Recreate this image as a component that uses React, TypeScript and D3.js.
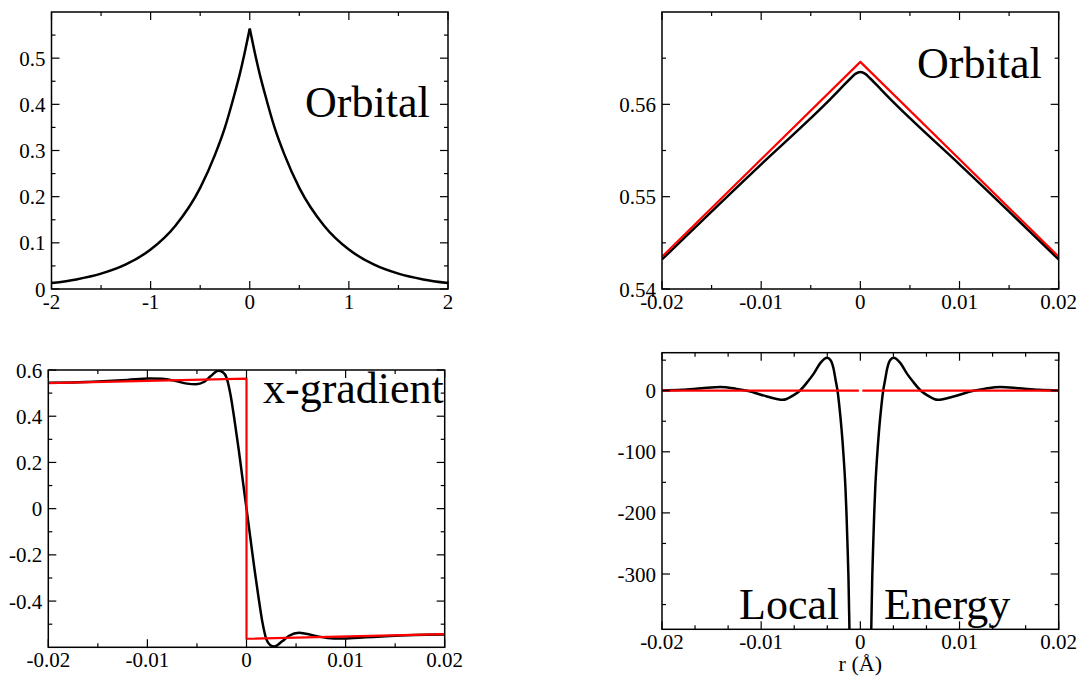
import React from "react";
import * as d3 from "d3";

// ---- data ----

// top-left: orbital over [-2, 2]
const orbX = [-2, -1.75, -1.5, -1.25, -1, -0.75, -0.5, -0.35, -0.25, -0.15, -0.1, -0.05, 0,
  0.05, 0.1, 0.15, 0.25, 0.35, 0.5, 0.75, 1, 1.25, 1.5, 1.75, 2];
const orbY = [0.0128, 0.0207, 0.0332, 0.0532, 0.0854, 0.137, 0.219, 0.291, 0.35, 0.425, 0.466, 0.513, 0.564,
  0.513, 0.466, 0.425, 0.35, 0.291, 0.219, 0.137, 0.0854, 0.0532, 0.0332, 0.0207, 0.0128];

// top-right: zoom near the cusp
const zoomX = [-0.02, -0.01, -0.005, -0.003, -0.002, -0.001, -0.0005, 0, 0.0005, 0.001, 0.002, 0.003, 0.005, 0.01, 0.02];
const zoomBlack = [0.5432, 0.5535, 0.5585, 0.5606, 0.5617, 0.5628, 0.5633, 0.5635, 0.5633, 0.5628, 0.5617, 0.5606, 0.5585, 0.5535, 0.5432];
const zoomRedX = [-0.02, 0, 0.02];
const zoomRed = [0.5435, 0.5646, 0.5435];

// bottom-left: x-gradient
const gradX = [-0.02, -0.017, -0.014, -0.012, -0.0098, -0.0085, -0.0072, -0.006, -0.0051, -0.0043, -0.0036,
  -0.00285, -0.0024, -0.002, -0.0016, -0.0012, -0.0008, -0.0004, 0, 0.0004, 0.0008, 0.0012, 0.0016, 0.002,
  0.0024, 0.0028, 0.0036, 0.0043, 0.0053, 0.006, 0.0072, 0.0088, 0.0098, 0.012, 0.014, 0.017, 0.02];
const gradBlack = [0.545, 0.547, 0.552, 0.557, 0.563, 0.562, 0.553, 0.541, 0.538, 0.548, 0.574,
  0.597, 0.591, 0.565, 0.49, 0.38, 0.26, 0.13, 0, -0.13, -0.26, -0.38, -0.49, -0.565,
  -0.591, -0.597, -0.574, -0.55, -0.537, -0.541, -0.553, -0.562, -0.562, -0.557, -0.552, -0.547, -0.545];
const gradRedX = [-0.02, 0, 0, 0.02];
const gradRed = [0.543, 0.563, -0.563, -0.543];

// bottom-right: local energy (two branches, each runs off the bottom)
const enLeftX = [-0.02, -0.018, -0.016, -0.0141, -0.0125, -0.0114, -0.0095, -0.0078, -0.0068, -0.0061, -0.0053,
  -0.0047, -0.004, -0.00335, -0.003, -0.0027, -0.0025, -0.0023, -0.0021, -0.0019, -0.0017, -0.0015, -0.0014,
  -0.0013, -0.0012, -0.0011, -0.001];
const enLeft = [0.5, 1.5, 4, 6, 3, 0, -9, -15, -8, 0, 15, 28, 46, 54, 50, 36, 18, 0, -28, -62, -105, -160, -200,
  -250, -305, -390, -480];
const enRightX = [0.001, 0.0011, 0.0012, 0.0013, 0.0014, 0.0015, 0.0017, 0.0019, 0.0021, 0.0023, 0.0025, 0.0027,
  0.003, 0.00335, 0.004, 0.0047, 0.0053, 0.0061, 0.0068, 0.0078, 0.0095, 0.0114, 0.0125, 0.0141, 0.016, 0.018, 0.02];
const enRight = [-480, -390, -305, -250, -200, -160, -105, -62, -28, 0, 18, 36, 50, 54, 46, 28, 15, 0, -8, -15, -9,
  0, 3, 6, 4, 1.5, 0.5];
const enRedLeftX = [-0.02, -0.00015];
const enRedRightX = [0.0002, 0.02];
const enRed = [0, 0];

const zip = (xs: number[], ys: number[]) => xs.map((x, i) => [x, ys[i]] as [number, number]);

const fmt = (v: number) => String(Number(v.toFixed(4)));
const steps = (a: number, b: number, s: number) => {
  const out: number[] = [];
  const n = Math.round((b - a) / s);
  for (let i = 0; i <= n; i++) out.push(Number((a + i * s).toFixed(6)));
  return out;
};

const FONT = "'Liberation Serif', 'Times New Roman', serif";

type Series = { pts: [number, number][]; color: string; width: number; smooth: boolean };
type Label = { text: string; x: number; y: number };

type PanelProps = {
  id: string;
  box: [number, number, number, number];
  xDomain: [number, number];
  yDomain: [number, number];
  xMajor: number[];
  xMinor: number[];
  yMajor: number[];
  yMinor: number[];
  yLabels: number[];
  series: Series[];
  labels: Label[];
};

const Panel = ({ id, box, xDomain, yDomain, xMajor, xMinor, yMajor, yMinor, yLabels, series, labels }: PanelProps) => {
  const [l, t, r, b] = box;
  const x = d3.scaleLinear().domain(xDomain).range([l, r]);
  const y = d3.scaleLinear().domain(yDomain).range([b, t]);
  const lineSmooth = d3.line<[number, number]>().x((d) => x(d[0])).y((d) => y(d[1])).curve(d3.curveMonotoneX);
  const lineStraight = d3.line<[number, number]>().x((d) => x(d[0])).y((d) => y(d[1]));
  const major = 8;
  const minor = 4;

  return (
    <g>
      <defs>
        <clipPath id={id}>
          <rect x={l} y={t} width={r - l} height={b - t} />
        </clipPath>
      </defs>
      <g clipPath={`url(#${id})`}>
        {series.map((s, i) => (
          <path key={i} d={(s.smooth ? lineSmooth : lineStraight)(s.pts) || ""} fill="none"
            stroke={s.color} strokeWidth={s.width} strokeLinejoin="round" />
        ))}
      </g>
      <g stroke="#000" strokeWidth={1.2}>
        {xMajor.map((v) => (
          <g key={"xM" + v}>
            <line x1={x(v)} x2={x(v)} y1={b} y2={b - major} />
            <line x1={x(v)} x2={x(v)} y1={t} y2={t + major} />
          </g>
        ))}
        {xMinor.map((v) => (
          <g key={"xm" + v}>
            <line x1={x(v)} x2={x(v)} y1={b} y2={b - minor} />
            <line x1={x(v)} x2={x(v)} y1={t} y2={t + minor} />
          </g>
        ))}
        {yMajor.map((v) => (
          <g key={"yM" + v}>
            <line x1={l} x2={l + major} y1={y(v)} y2={y(v)} />
            <line x1={r} x2={r - major} y1={y(v)} y2={y(v)} />
          </g>
        ))}
        {yMinor.map((v) => (
          <g key={"ym" + v}>
            <line x1={l} x2={l + minor} y1={y(v)} y2={y(v)} />
            <line x1={r} x2={r - minor} y1={y(v)} y2={y(v)} />
          </g>
        ))}
      </g>
      <rect x={l} y={t} width={r - l} height={b - t} fill="none" stroke="#000" strokeWidth={1.5} />
      <g fontFamily={FONT} fontSize={21} fill="#000">
        {xMajor.map((v) => (
          <text key={"xl" + v} x={x(v)} y={b + 19.5} textAnchor="middle">{fmt(v)}</text>
        ))}
        {yLabels.map((v) => (
          <text key={"yl" + v} x={l - 6} y={y(v)} dy="0.36em" textAnchor="end">{fmt(v)}</text>
        ))}
      </g>
      <g fontFamily={FONT} fontSize={44} fill="#000">
        {labels.map((lb, i) => (
          <text key={i} x={lb.x} y={lb.y}>{lb.text}</text>
        ))}
      </g>
    </g>
  );
};

export default function App() {
  const orbPts = zip(orbX, orbY);
  const cusp = orbX.indexOf(0);
  return (
    <svg width={1082} height={678} style={{ position: "absolute", left: 0, top: 0, background: "#fff" }}>
      <rect width={1082} height={678} fill="#fff" />
      <Panel
        id="p1"
        box={[51.5, 12, 448, 289]}
        xDomain={[-2, 2]}
        yDomain={[0, 0.6]}
        xMajor={steps(-2, 2, 1)}
        xMinor={steps(-1.5, 1.5, 1)}
        yMajor={steps(0, 0.5, 0.1)}
        yMinor={steps(0.05, 0.55, 0.1)}
        yLabels={steps(0, 0.5, 0.1)}
        series={[
          { pts: orbPts.slice(0, cusp + 1), color: "#000", width: 2.5, smooth: true },
          { pts: orbPts.slice(cusp), color: "#000", width: 2.5, smooth: true },
        ]}
        labels={[{ text: "Orbital", x: 305, y: 117 }]}
      />
      <Panel
        id="p2"
        box={[662, 12, 1058.7, 289]}
        xDomain={[-0.02, 0.02]}
        yDomain={[0.54, 0.57]}
        xMajor={steps(-0.02, 0.02, 0.01)}
        xMinor={steps(-0.015, 0.015, 0.01)}
        yMajor={steps(0.54, 0.56, 0.01)}
        yMinor={steps(0.545, 0.565, 0.01)}
        yLabels={steps(0.54, 0.56, 0.01)}
        series={[
          { pts: zip(zoomX, zoomBlack), color: "#000", width: 2.5, smooth: true },
          { pts: zip(zoomRedX, zoomRed), color: "#ff0000", width: 2.2, smooth: false },
        ]}
        labels={[{ text: "Orbital", x: 917, y: 77.5 }]}
      />
      <Panel
        id="p3"
        box={[48.3, 370, 444.7, 647.3]}
        xDomain={[-0.02, 0.02]}
        yDomain={[-0.6, 0.6]}
        xMajor={steps(-0.02, 0.02, 0.01)}
        xMinor={steps(-0.015, 0.015, 0.01)}
        yMajor={steps(-0.4, 0.6, 0.2)}
        yMinor={steps(-0.5, 0.5, 0.2)}
        yLabels={steps(-0.4, 0.6, 0.2)}
        series={[
          { pts: zip(gradX, gradBlack), color: "#000", width: 2.5, smooth: true },
          { pts: zip(gradRedX, gradRed), color: "#ff0000", width: 2.2, smooth: false },
        ]}
        labels={[{ text: "x-gradient", x: 263, y: 403 }]}
      />
      <Panel
        id="p4"
        box={[662, 352.7, 1058.7, 629.3]}
        xDomain={[-0.02, 0.02]}
        yDomain={[-390.5, 62.2]}
        xMajor={steps(-0.02, 0.02, 0.01)}
        xMinor={steps(-0.02, 0.02, 0.01 / 3).filter((v) => Math.abs(Math.round(v * 100) - v * 100) > 1e-6)}
        yMajor={steps(-300, 0, 100)}
        yMinor={steps(-350, 50, 100)}
        yLabels={steps(-300, 0, 100)}
        series={[
          { pts: zip(enLeftX, enLeft), color: "#000", width: 2.5, smooth: true },
          { pts: zip(enRightX, enRight), color: "#000", width: 2.5, smooth: true },
          { pts: zip(enRedLeftX, enRed), color: "#ff0000", width: 2.2, smooth: false },
          { pts: zip(enRedRightX, enRed), color: "#ff0000", width: 2.2, smooth: false },
        ]}
        labels={[
          { text: "Local", x: 739, y: 619 },
          { text: "Energy", x: 884, y: 619 },
        ]}
      />
      <text x={860.3} y={671} textAnchor="middle" fontFamily={FONT} fontSize={22}>r (Å)</text>
    </svg>
  );
}
